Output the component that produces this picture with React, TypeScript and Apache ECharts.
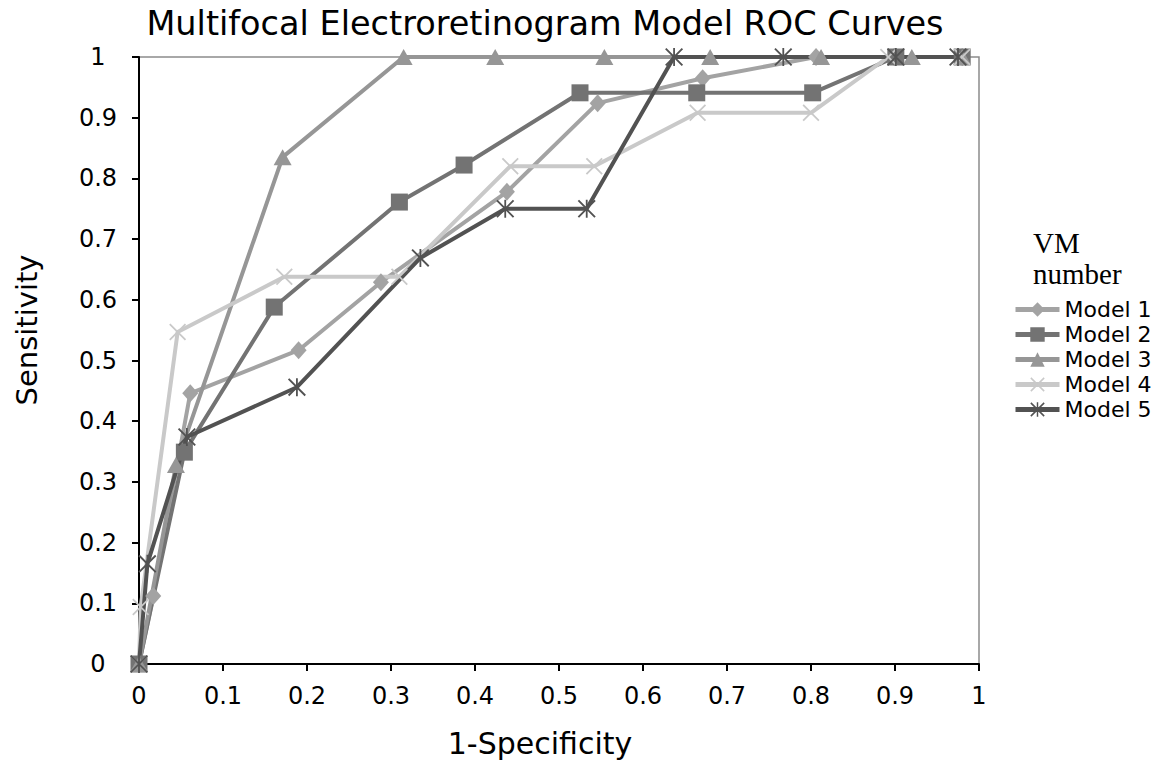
import React, { useEffect, useRef } from "react";
import * as echarts from "echarts";

const chartTitle = "Multifocal Electroretinogram Model ROC Curves";
const xAxisTitle = "1-Specificity";
const yAxisTitle = "Sensitivity";
const legendTitleLines = ["VM", "number"];
const seriesNames = ["Model 1", "Model 2", "Model 3", "Model 4", "Model 5"];

const model1X = [0, 0.017, 0.061, 0.19, 0.288, 0.438, 0.546, 0.671, 0.806, 0.899, 0.98];
const model1Y = [0, 0.112, 0.446, 0.517, 0.629, 0.778, 0.924, 0.965, 1, 1, 1];

const model2X = [0, 0.054, 0.161, 0.31, 0.387, 0.525, 0.664, 0.802, 0.901, 0.98];
const model2Y = [0, 0.349, 0.588, 0.761, 0.822, 0.941, 0.941, 0.941, 1, 1];

const model3X = [0, 0.044, 0.171, 0.315, 0.424, 0.554, 0.68, 0.812, 0.92, 0.98];
const model3Y = [0, 0.328, 0.835, 1, 1, 1, 1, 1, 1, 1];

const model4X = [0, 0.002, 0.046, 0.173, 0.31, 0.442, 0.542, 0.665, 0.8, 0.892, 0.98];
const model4Y = [0, 0.094, 0.547, 0.638, 0.638, 0.82, 0.82, 0.908, 0.908, 1, 1];

const model5X = [0, 0.01, 0.057, 0.188, 0.335, 0.436, 0.533, 0.637, 0.767, 0.901, 0.975];
const model5Y = [0, 0.165, 0.374, 0.456, 0.669, 0.75, 0.75, 1, 1, 1, 1];

const xsAll = [model1X, model2X, model3X, model4X, model5X];
const ysAll = [model1Y, model2Y, model3Y, model4Y, model5Y];

const colors = ["#a3a3a3", "#737373", "#969696", "#c9c9c9", "#525252"];

const X_PATH =
  "path://M1.5 0 L20 18.5 L18.5 20 L0 1.5 Z M18.5 0 L20 1.5 L1.5 20 L0 18.5 Z";
const STAR_PATH =
  "path://M9 0 L11 0 L11 20 L9 20 Z M1.5 0 L20 18.5 L18.5 20 L0 1.5 Z M18.5 0 L20 1.5 L1.5 20 L0 18.5 Z";

const symbols = ["diamond", "rect", "triangle", X_PATH, STAR_PATH];
const symbolSizes: any[] = [[16, 18], 17, [18, 16], 17, 18];

export default function App() {
  const ref = useRef<HTMLDivElement>(null);
  useEffect(() => {
    if (!ref.current) return;
    const chart = echarts.init(ref.current, null, { renderer: "svg" });
    const series = seriesNames.map((name, i) => ({
      name,
      type: "line",
      data: xsAll[i].map((x, j) => [x, ysAll[i][j]]),
      symbol: symbols[i],
      symbolSize: symbolSizes[i],
      showAllSymbol: true,
      clip: false,
      lineStyle: { color: colors[i], width: 4 },
      itemStyle: { color: colors[i] },
      emphasis: { disabled: true },
    }));
    const txt = (text: string, x: number, y: number, font: string, align = "center", rotation = 0) => ({
      type: "text",
      x,
      y,
      rotation,
      style: { text, font, fill: "#000", textAlign: align, textVerticalAlign: "middle" },
    });
    chart.setOption({
      animation: false,
      textStyle: { fontFamily: "DejaVu Sans" },
      graphic: [
        txt(chartTitle, 545, 23, "33.5px 'DejaVu Sans'"),
        txt(xAxisTitle, 540, 743, "30px 'DejaVu Sans'"),
        txt(yAxisTitle, 27, 330, "29px 'DejaVu Sans'", "center", Math.PI / 2),
        txt(legendTitleLines[0], 1033, 243, "29px 'Liberation Serif'", "left"),
        txt(legendTitleLines[1], 1033, 274, "29px 'Liberation Serif'", "left"),
      ],
      grid: {
        left: 139,
        right: 194,
        top: 57,
        bottom: 99,
        show: true,
        borderColor: "#8c8c8c",
        borderWidth: 1.5,
      },
      legend: {
        orient: "vertical",
        left: 1013,
        top: 297,
        padding: 0,
        itemWidth: 44,
        itemHeight: 18,
        itemGap: 0,
        lineStyle: { width: 5 },
        textStyle: { fontSize: 22, lineHeight: 25, color: "#000", fontFamily: "DejaVu Sans" },
        data: seriesNames,
      },
      xAxis: {
        type: "value",
        min: 0,
        max: 1,
        interval: 0.1,
        axisLine: { show: true, onZero: false, lineStyle: { color: "#000", width: 2 } },
        axisTick: { show: true, length: 7, lineStyle: { color: "#000", width: 2 } },
        axisLabel: { fontSize: 24, color: "#000", margin: 20, fontFamily: "DejaVu Sans" },
        splitLine: { show: false },
      },
      yAxis: {
        type: "value",
        min: 0,
        max: 1,
        interval: 0.1,
        axisLine: { show: true, onZero: false, lineStyle: { color: "#000", width: 2 } },
        axisTick: { show: true, length: 7, lineStyle: { color: "#000", width: 2 } },
        axisLabel: { fontSize: 24, color: "#000", margin: 41, align: "center", fontFamily: "DejaVu Sans" },
        splitLine: { show: false },
      },
      series,
    });
    return () => chart.dispose();
  }, []);
  return (
    <div
      ref={ref}
      style={{ position: "fixed", left: 0, top: 0, width: 1173, height: 763, background: "#fff" }}
    />
  );
}
